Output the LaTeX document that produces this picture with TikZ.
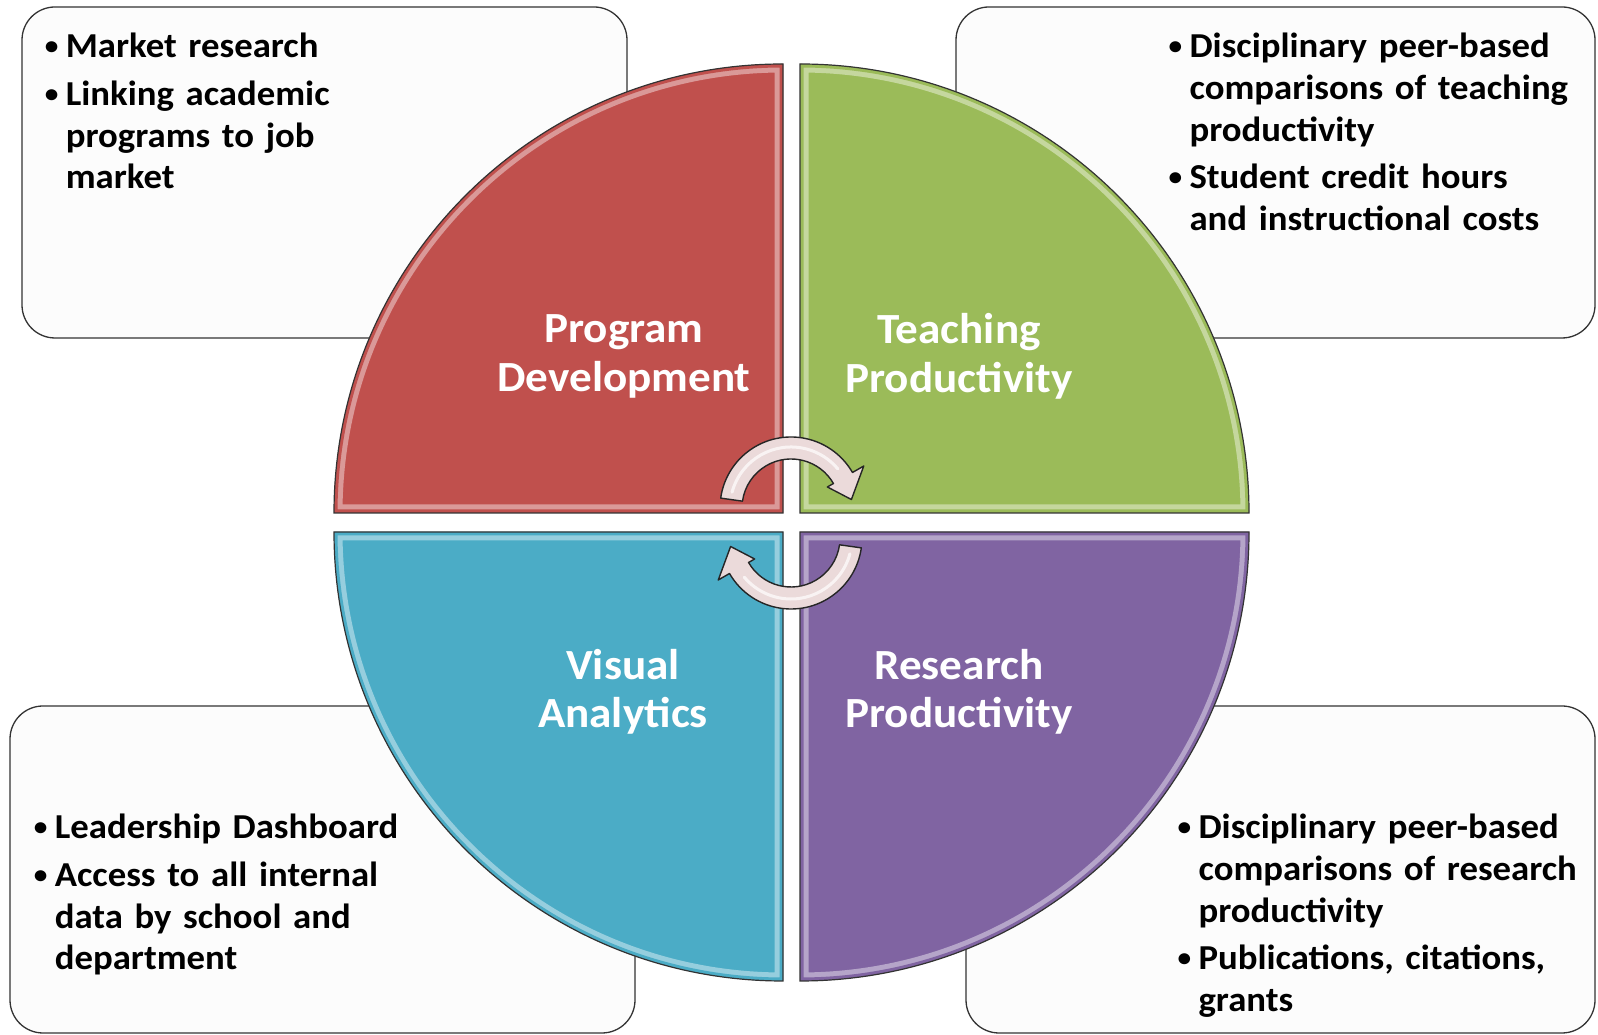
\documentclass[tikz,border=0pt]{standalone}
\usepackage{fontspec}
\setmainfont{Carlito}[FakeStretch=1.05]
\definecolor{qred}{HTML}{C0504D}
\definecolor{qgreen}{HTML}{9BBB59}
\definecolor{qblue}{HTML}{4BACC6}
\definecolor{qpurple}{HTML}{8064A2}
\definecolor{arrowpink}{HTML}{EBDADA}
\definecolor{boxfill}{HTML}{FCFCFC}
\newcommand*{\bitem}[1]{\hangindent=21pt\hangafter=1\noindent
  \makebox[21pt][l]{\raisebox{3pt}{\fontsize{26}{26}\selectfont\textbullet}}#1\par}
\newcommand*{\qpath}[3]{(#1,#2) -- ++(#3:449)
  arc[start angle=#3, delta angle=90, radius=449] -- cycle}
\tikzset{
  infobox/.style={draw=black!80, fill=boxfill, line width=1.3pt,
    rounded corners=33pt, inner sep=0pt},
  bullets/.style={anchor=base west, inner sep=0pt, text width=460pt,
    align=left, font=\fontsize{35}{41.7}\selectfont\bfseries},
  qlabel/.style={text=white, align=center, inner sep=0pt,
    font=\fontsize{43}{48.5}\selectfont\bfseries},
  qedge/.style={draw=black!80, line width=1.2pt},
  cyclearrow/.style={draw=black!85, fill=arrowpink, line width=1.4pt,
    line join=round}
}

\begin{document}
\begin{tikzpicture}[x=1pt,y=1pt]
\useasboundingbox (0,0) rectangle (1598,1035);
\fill[white] (0,0) rectangle (1598,1035);
% The four boxes behind the circle
\node[infobox, minimum width=605pt, minimum height=331pt] (pd) at (324.5,862.5) {};
\node[infobox, minimum width=639pt, minimum height=331pt] (tp) at (1275.5,862.5) {};
\node[infobox, minimum width=625pt, minimum height=327pt] (va) at (322.5,165.5) {};
\node[infobox, minimum width=629pt, minimum height=327pt] (rp) at (1280.5,165.5) {};
% Bullet texts, hung from the top left corners of the boxes
\node[bullets] (pdtext) at ([xshift=23.3pt,yshift=-51.3pt]pd.north west)
  {\bitem{Market research}\vspace{6pt}%
   \bitem{Linking academic\newline programs to job\newline market}};
\node[bullets] (tptext) at ([xshift=213pt,yshift=-51.3pt]tp.north west)
  {\bitem{Disciplinary peer-based\newline comparisons of teaching\newline productivity}\vspace{6pt}%
   \bitem{Student credit hours\newline and instructional costs}};
\node[bullets] (vatext) at ([xshift=24.3pt,yshift=-133.5pt]va.north west)
  {\bitem{Leadership Dashboard}\vspace{6pt}%
   \bitem{Access to all internal\newline data by school and\newline department}};
\node[bullets] (rptext) at ([xshift=212pt,yshift=-133.5pt]rp.north west)
  {\bitem{Disciplinary peer-based\newline comparisons of research\newline productivity}\vspace{6pt}%
   \bitem{Publications, citations,\newline grants}};
% Quarters of the circle, with a light bevel just inside the edge
\foreach \col/\cx/\cy/\a in {qred/783/522/90, qgreen/800/522/0,
                              qblue/783/503/180, qpurple/800/503/270}{
  \begin{scope}
    \clip \qpath{\cx}{\cy}{\a};
    \fill[\col] \qpath{\cx}{\cy}{\a};
    \draw[\col!30!white, line width=17pt, opacity=.6] \qpath{\cx}{\cy}{\a};
    \draw[\col, line width=7pt] \qpath{\cx}{\cy}{\a};
  \end{scope}
  \draw[qedge] \qpath{\cx}{\cy}{\a};
}
% Labels of the quarters
\node[qlabel] (pdl) at (624,678.5) {Program\\Development};
\node[qlabel] (tpl) at (959,678.5) {Teaching\\Productivity};
\node[qlabel] (val) at (623,343) {Visual\\Analytics};
\node[qlabel] (rpl) at (959,343) {Research\\Productivity};
% Cycle arrows in the middle
\foreach \rot/\cy in {0/527,180/497}{
  \begin{scope}[shift={(791,\cy)}, rotate=\rot]
    \draw[cyclearrow] (172:71) arc[start angle=172, end angle=30, radius=71]
      -- (30:84) -- (8:61) -- (30:42) -- (30:49)
      arc[start angle=30, end angle=172, radius=49] -- cycle;
    \draw[white, opacity=.7, line width=3pt, line cap=round]
      (165:61) arc[start angle=165, end angle=40, radius=61];
  \end{scope}
}
\end{tikzpicture}
\end{document}
